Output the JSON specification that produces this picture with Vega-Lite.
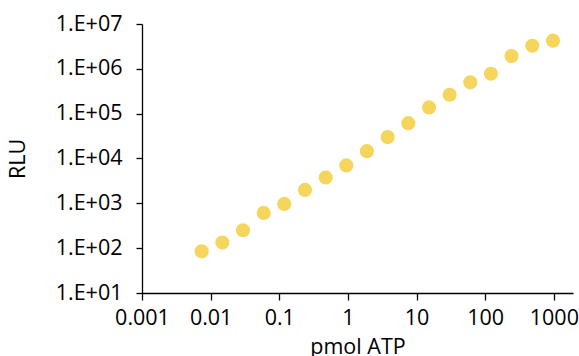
{
  "$schema": "https://vega.github.io/schema/vega-lite/v6.json",
  "width": 431,
  "height": 269,
  "autosize": "none",
  "padding": {"left": 142, "top": 24, "right": 6, "bottom": 63},
  "background": "white",
  "config": {
    "view": {"stroke": null},
    "font": "Open Sans",
    "axis": {
      "grid": false,
      "domainColor": "#000000",
      "tickColor": "#000000",
      "labelColor": "#000000",
      "titleColor": "#000000",
      "labelFont": "Open Sans",
      "titleFont": "Open Sans",
      "labelFontSize": 21.5,
      "titleFontSize": 21.5,
      "titleFontWeight": "normal",
      "domainWidth": 1.3,
      "tickWidth": 1.3,
      "labelOverlap": false,
      "labelBound": false,
      "labelFlush": false
    }
  },
  "data": {
    "values": [
      {"pmol": 0.0074, "rlu": 85},
      {"pmol": 0.0148, "rlu": 133},
      {"pmol": 0.0296, "rlu": 251},
      {"pmol": 0.0592, "rlu": 611},
      {"pmol": 0.118, "rlu": 970},
      {"pmol": 0.237, "rlu": 1995},
      {"pmol": 0.474, "rlu": 3770},
      {"pmol": 0.947, "rlu": 7000},
      {"pmol": 1.89, "rlu": 14600},
      {"pmol": 3.79, "rlu": 30000},
      {"pmol": 7.58, "rlu": 61500},
      {"pmol": 15.2, "rlu": 137700},
      {"pmol": 30.3, "rlu": 264000},
      {"pmol": 60.6, "rlu": 499000},
      {"pmol": 121, "rlu": 776000},
      {"pmol": 242, "rlu": 1930000},
      {"pmol": 485, "rlu": 3280000},
      {"pmol": 970, "rlu": 4250000}
    ]
  },
  "mark": {"type": "circle", "size": 200, "color": "#F6D55C", "opacity": 1},
  "encoding": {
    "x": {
      "field": "pmol",
      "type": "quantitative",
      "scale": {"type": "log", "domain": [0.001, 1900], "nice": false},
      "axis": {
        "title": "pmol ATP",
        "values": [0.001, 0.01, 0.1, 1, 10, 100, 1000],
        "labelExpr": "format(datum.value, '~g')",
        "tickSize": 7,
        "labelPadding": 7,
        "titlePadding": 8
      }
    },
    "y": {
      "field": "rlu",
      "type": "quantitative",
      "scale": {"type": "log", "domain": [10, 10000000], "nice": false},
      "axis": {
        "title": "RLU",
        "values": [10, 100, 1000, 10000, 100000, 1000000, 10000000],
        "labelExpr": "'1.E+' + format(round(log(datum.value)/LN10), '02d')",
        "tickSize": 6,
        "labelPadding": 14,
        "titlePadding": 26
      }
    }
  }
}
